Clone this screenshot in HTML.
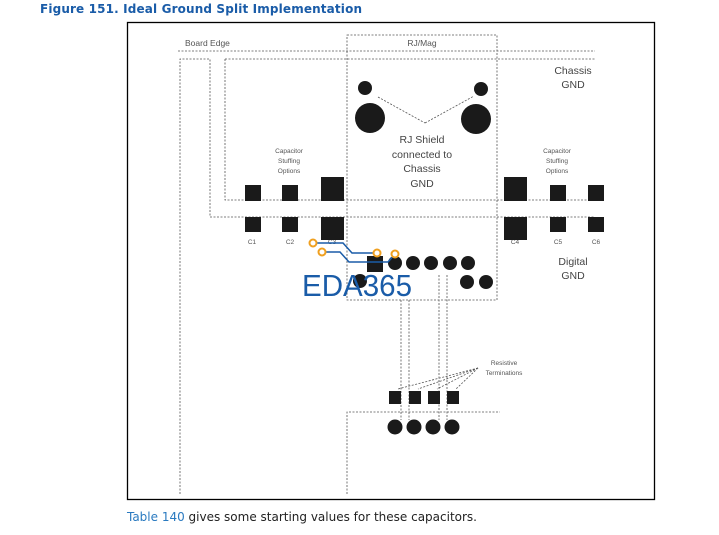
<!DOCTYPE html>
<html><head><meta charset="utf-8"><style>
html,body{margin:0;padding:0;background:#fff;width:719px;height:535px;overflow:hidden}
svg{display:block}
</style></head><body>
<svg width="719" height="535" viewBox="0 0 719 535" xmlns="http://www.w3.org/2000/svg" font-family="Liberation Sans, sans-serif">
<text x="40" y="13" font-family="DejaVu Sans, Liberation Sans, sans-serif" font-weight="bold" font-size="12" fill="#1a5ca8" textLength="322">Figure 151.  Ideal Ground Split Implementation</text>
<rect x="127.5" y="22.5" width="527" height="477" fill="none" stroke="#000" stroke-width="1.3"/>
<g fill="none" stroke="#555" stroke-width="0.8" stroke-dasharray="2,1.5">
<line x1="178" y1="51" x2="595" y2="51"/>
<rect x="347" y="35" width="150" height="265"/>
<polyline points="180,494 180,59 210,59 210,217 595,217"/>
<polyline points="225,59 595,59"/>
<polyline points="225,59 225,200 595,200"/>
<polyline points="347,494 347,412 500,412"/>
<line x1="401" y1="300" x2="401" y2="420"/>
<line x1="409" y1="300" x2="409" y2="420"/>
<line x1="439" y1="275" x2="439" y2="420"/>
<line x1="447" y1="275" x2="447" y2="420"/>
<line x1="378" y1="97" x2="425" y2="123"/><line x1="425" y1="123" x2="474" y2="96"/>
<line x1="478" y1="368" x2="398" y2="389"/><line x1="478" y1="368" x2="418" y2="389"/>
<line x1="478" y1="368" x2="437" y2="389"/><line x1="478" y1="368" x2="456" y2="389"/>
</g>
<g fill="#555" font-size="8.5">
<text x="185" y="46">Board Edge</text>
<text x="422" y="46" text-anchor="middle">RJ/Mag</text>
</g>
<g fill="#444" font-size="10.5" text-anchor="middle">
<text x="573" y="74">Chassis</text><text x="573" y="88">GND</text>
<text x="573" y="265">Digital</text><text x="573" y="279">GND</text>
<text x="422" y="143">RJ Shield</text><text x="422" y="158">connected to</text>
<text x="422" y="172">Chassis</text><text x="422" y="187">GND</text>
</g>
<g fill="#555" font-size="6.5" text-anchor="middle">
<text x="289" y="153">Capacitor</text><text x="289" y="163">Stuffing</text><text x="289" y="173">Options</text>
<text x="557" y="153">Capacitor</text><text x="557" y="163">Stuffing</text><text x="557" y="173">Options</text>
<text x="252" y="244">C1</text><text x="290" y="244">C2</text><text x="332" y="244">C3</text>
<text x="515" y="244">C4</text><text x="558" y="244">C5</text><text x="596" y="244">C6</text>
<text x="504" y="365">Resistive</text><text x="504" y="375">Terminations</text>
</g>
<g fill="#1a1a1a">
<rect x="245" y="185" width="16" height="16"/><rect x="282" y="185" width="16" height="16"/><rect x="321" y="177" width="23" height="24"/>
<rect x="504" y="177" width="23" height="24"/><rect x="550" y="185" width="16" height="16"/><rect x="588" y="185" width="16" height="16"/>
<rect x="245" y="217" width="16" height="15"/><rect x="282" y="217" width="16" height="15"/><rect x="321" y="217" width="23" height="23"/>
<rect x="504" y="217" width="23" height="23"/><rect x="550" y="217" width="16" height="15"/><rect x="588" y="217" width="16" height="15"/>
<circle cx="365" cy="88" r="7"/><circle cx="481" cy="89" r="7"/>
<circle cx="370" cy="118" r="15"/><circle cx="476" cy="119" r="15"/>
<rect x="367" y="256" width="16" height="16"/>
<circle cx="395" cy="263" r="7"/><circle cx="413" cy="263" r="7"/><circle cx="431" cy="263" r="7"/><circle cx="450" cy="263" r="7"/><circle cx="468" cy="263" r="7"/>
<circle cx="360" cy="281" r="7"/><circle cx="467" cy="282" r="7"/><circle cx="486" cy="282" r="7"/>
<rect x="389" y="391" width="12" height="13"/><rect x="409" y="391" width="12" height="13"/><rect x="428" y="391" width="12" height="13"/><rect x="447" y="391" width="12" height="13"/>
<circle cx="395" cy="427" r="7.5"/><circle cx="414" cy="427" r="7.5"/><circle cx="433" cy="427" r="7.5"/><circle cx="452" cy="427" r="7.5"/>
</g>
<g fill="none" stroke="#1a5ca8" stroke-width="1.5">
<polyline points="313,243 343,243 352,253 377,253"/>
<polyline points="322,252 340,252 349,262 388,262 395,254"/>
</g>
<g fill="#fff" stroke="#f0a020" stroke-width="2">
<circle cx="313" cy="243" r="3.5"/><circle cx="322" cy="252" r="3.5"/><circle cx="377" cy="253" r="3.5"/><circle cx="395" cy="254" r="3.5"/>
</g>
<text x="302" y="296" font-size="31" fill="#1a5ca8" textLength="110" lengthAdjust="spacingAndGlyphs">EDA365</text>
<text x="127" y="521" font-family="DejaVu Sans, Liberation Sans, sans-serif" font-size="12" fill="#222" textLength="350"><tspan fill="#2a7ac0">Table 140</tspan> gives some starting values for these capacitors.</text>
</svg>
</body></html>
